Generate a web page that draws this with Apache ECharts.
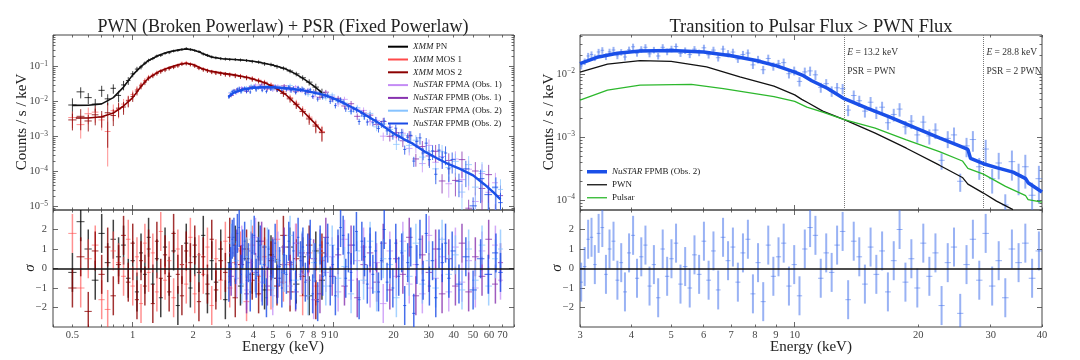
<!DOCTYPE html>
<html>
<head>
<meta charset="utf-8">
<script src="https://cdn.jsdelivr.net/npm/echarts@6/dist/echarts.min.js"></script>
<style>
  html, body { margin: 0; padding: 0; background: #fff; }
  #chart { width: 1080px; height: 360px; }
</style>
</head>
<body>
<div id="chart"></div>
<script>
// ---------------- data (energy in keV, rate in counts/s/keV, residuals in sigma) ----------------
// XMM-Newton spectra (common binning)
const xmmE = [0.50,0.55,0.60,0.65,0.70,0.75,0.80,0.85,0.90,0.95,1.00,1.05,1.10,1.15,1.20,1.26,1.32,1.38,1.45,1.52,1.60,1.68,1.76,1.85,1.94,2.04,2.14,2.25,2.36,2.48,2.60,2.75,2.90,3.05,3.25,3.45,3.70,3.95,4.25,4.55,4.90,5.25,5.65,6.10,6.55,7.05,7.60,8.20,8.80]
const pnC = [0.0080,0.019,0.013,0.0085,0.021,0.012,0.024,0.015,0.030,0.040,0.062,0.085,0.098,0.125,0.150,0.17,0.20,0.21,0.24,0.25,0.28,0.29,0.31,0.33,0.31,0.29,0.27,0.23,0.21,0.19,0.18,0.17,0.165,0.16,0.16,0.155,0.15,0.14,0.135,0.12,0.115,0.10,0.09,0.075,0.062,0.048,0.036,0.026,0.018]
const mos1C = [0.0035,0.0022,0.0045,0.0050,0.0030,0.0014,0.0055,0.0060,0.0085,0.011,0.016,0.022,0.030,0.040,0.050,0.058,0.068,0.075,0.085,0.090,0.100,0.110,0.125,0.13,0.118,0.11,0.095,0.085,0.078,0.072,0.068,0.065,0.062,0.060,0.057,0.054,0.050,0.046,0.041,0.036,0.030,0.025,0.019,0.013,0.0090,0.0058,0.0036,0.0022,0.0014]
const mos2C = [0.0030,0.0038,0.0028,0.0042,0.0036,0.0048,0.0040,0.0065,0.0070,0.0105,0.014,0.020,0.028,0.036,0.047,0.055,0.064,0.072,0.080,0.088,0.096,0.105,0.118,0.122,0.115,0.104,0.090,0.082,0.076,0.070,0.066,0.063,0.060,0.058,0.055,0.052,0.048,0.044,0.039,0.034,0.028,0.023,0.017,0.012,0.0082,0.0052,0.0032,0.0020,0.0013]
const pnRelErr = [0.55,0.35,0.35,0.4,0.35,0.35,0.3,0.35,0.3,0.25,0.2,0.16,0.15,0.12,0.12,0.1,0.1,0.1,0.09,0.09,0.09,0.09,0.09,0.09,0.09,0.09,0.09,0.1,0.1,0.1,0.1,0.1,0.1,0.1,0.1,0.1,0.1,0.11,0.11,0.12,0.12,0.13,0.13,0.14,0.15,0.17,0.2,0.25,0.3]
const mosRelErr = [0.5,0.6,0.5,0.5,0.5,0.9,0.5,0.45,0.4,0.35,0.3,0.25,0.2,0.18,0.16,0.15,0.14,0.13,0.13,0.12,0.12,0.12,0.12,0.12,0.12,0.12,0.12,0.13,0.13,0.13,0.13,0.14,0.14,0.14,0.15,0.15,0.15,0.16,0.16,0.17,0.18,0.19,0.2,0.22,0.25,0.28,0.32,0.38,0.45]
const pnRes = [-0.2,2.4,1.0,-0.6,1.8,0.3,1.5,0.6,1.2,-0.5,0.4,-1.2,0.8,-0.3,1.6,-0.8,0.5,-1.5,1.1,-0.4,0.9,-1.9,0.2,1.3,-1.0,0.6,-0.2,1.7,-1.3,0.4,-0.7,1.0,-1.6,0.3,1.2,-0.9,0.5,-0.3,1.4,-1.1,0.7,-0.5,0.2,1.1,-0.8,0.6,-1.4,0.9,-0.6]
const mos1Res = [1.8,-1.0,0.5,1.2,-1.6,-2.1,0.9,0.3,-0.4,1.5,-0.9,0.6,-1.8,1.3,-0.2,0.8,-1.2,1.9,-0.6,0.4,-1.5,1.0,0.2,-0.8,1.6,-1.3,0.7,-0.3,1.1,-1.9,0.5,-0.6,1.4,-1.0,0.3,0.9,-1.7,1.2,-0.4,0.6,-1.1,1.5,-0.7,0.2,1.3,-1.4,0.8,-0.9,0.4]
const mos2Res = [-1.0,0.6,-2.2,0.9,-0.3,1.1,-1.4,0.2,1.7,-0.7,1.3,-1.6,0.4,-0.9,1.0,-1.8,1.4,-0.5,0.7,-1.2,1.8,-0.3,-1.4,0.9,0.3,1.2,-1.7,0.6,-0.8,1.5,-1.1,0.4,-0.2,1.6,-1.5,0.2,1.0,-0.6,-1.3,1.1,0.4,-0.9,1.7,-1.2,0.5,-0.4,1.2,-1.6,0.8]

// XMM model curves
const pnModelE = [0.5,0.6,0.7,0.8,0.9,1.0,1.1,1.2,1.35,1.5,1.7,1.85,2.0,2.15,2.3,2.5,2.8,3.2,3.6,4.0,4.6,5.2,5.8,6.5,7.2,8.0,8.8]
const pnModelC = [0.0078,0.0079,0.0086,0.013,0.026,0.058,0.10,0.15,0.21,0.26,0.30,0.32,0.30,0.26,0.22,0.185,0.168,0.16,0.152,0.142,0.122,0.104,0.085,0.062,0.043,0.028,0.018]
const mosModelE = [0.52,0.6,0.7,0.8,0.9,1.0,1.1,1.2,1.35,1.5,1.7,1.85,2.0,2.2,2.4,2.8,3.2,3.8,4.6,5.2,5.8,6.5,7.2,8.0,8.8]
const mosModelC = [0.0034,0.0034,0.0037,0.0047,0.0075,0.013,0.027,0.047,0.072,0.092,0.115,0.125,0.115,0.09,0.076,0.065,0.058,0.048,0.034,0.024,0.016,0.0086,0.0048,0.0026,0.0014]

// NuSTAR FPMA/FPMB Obs. 1 and FPMA Obs. 2 (common binning)
const nuE = [3.1,3.3,3.5,3.7,3.9,4.1,4.4,4.7,5.0,5.3,5.7,6.1,6.5,7.0,7.5,8.0,8.6,9.2,9.9,10.6,11.4,12.3,13.2,14.2,15.3,16.5,17.8,19.2,20.7,22.3,24.0,25.9,27.9,30.1,32.5,35.0,37.8,40.8,44.0,47.5,51.3,55.4,59.8,64.6,68.5]
const nuRelErr = [0.12,0.12,0.12,0.12,0.12,0.12,0.12,0.12,0.12,0.12,0.13,0.13,0.13,0.14,0.14,0.15,0.15,0.16,0.17,0.18,0.19,0.20,0.21,0.22,0.23,0.25,0.27,0.29,0.31,0.34,0.37,0.40,0.44,0.48,0.52,0.56,0.60,0.65,0.70,0.75,0.80,0.85,0.90,0.92,0.95]
const fa1C = [0.0173,0.0180,0.0249,0.0202,0.0252,0.0298,0.0234,0.0275,0.0214,0.0280,0.0252,0.0209,0.0265,0.0203,0.0216,0.0138,0.0190,0.0143,0.0142,0.0086,0.0116,0.0062,0.0061,0.0056,0.0027,0.0029,0.00103,0.00189,0.00098,0.00125,0.00046,0.00056,0.00017,0.00056,0.000185,0.00027,0.000045,0.00023,0.000059,0.000117,0.000014,0.000088,0.0000256,0.000048,0.0000069]
const fb1C = [0.0150,0.0215,0.0223,0.0197,0.0269,0.0244,0.0299,0.0231,0.0276,0.0238,0.0281,0.0246,0.0192,0.0236,0.0180,0.0195,0.0133,0.0186,0.0120,0.0124,0.0075,0.0087,0.0038,0.0047,0.0041,0.0022,0.0027,0.00102,0.00129,0.00076,0.00105,0.00023,0.00052,0.00028,0.00038,0.000054,0.000208,0.000056,0.00022,0.000009,0.000104,0.000033,0.000082,0.0000061,0.0000206]
const fa2C = [0.0183,0.0201,0.0197,0.0250,0.0287,0.0241,0.0262,0.0293,0.0226,0.0265,0.0240,0.0289,0.0209,0.0239,0.0158,0.0189,0.0185,0.0127,0.0155,0.0100,0.0092,0.0052,0.0067,0.0039,0.0046,0.0019,0.0023,0.0016,0.0006,0.00111,0.00056,0.00079,0.00026,0.00037,0.00012,0.00037,0.000131,0.000196,0.000026,0.000158,0.000036,0.000101,0.0000067,0.000034,0.000031]
const fa1Res = [0.8,-0.5,1.2,-1.1,0.3,1.6,-0.7,0.5,-1.4,0.9,0.2,-0.9,1.3,-0.3,0.7,-1.6,1.0,-0.2,0.6,-1.2,1.5,-0.6,0.4,1.1,-1.0,0.3,-1.8,0.9,-0.4,1.4,-0.8,0.2,-1.3,1.7,-0.5,0.6,-1.2,1.1,-0.7,0.4,-1.0,0.9,-0.3,1.2,-0.6]
const fb1Res = [-0.4,1.0,0.2,-1.3,0.9,-0.2,1.4,-0.9,0.6,-0.5,1.1,0.3,-1.2,0.8,-0.6,0.5,-1.3,1.6,-0.4,0.7,-0.9,1.2,-1.5,0.2,0.8,-0.7,1.3,-1.1,0.5,-0.3,1.6,-1.4,0.7,-0.2,1.0,-1.3,0.5,-0.9,1.3,-1.2,0.6,-0.4,1.5,-0.8,0.3]
const fa2Res = [1.3,0.4,-0.8,0.6,1.5,-0.3,0.2,1.1,-1.0,0.4,-0.2,1.7,-0.6,0.9,-1.4,0.3,0.8,-0.9,1.2,-0.5,0.1,-1.3,0.9,-0.6,1.4,-1.2,0.5,0.2,-1.5,0.9,-0.4,1.3,-0.8,0.4,-1.0,1.5,-0.3,0.7,-1.1,1.0,-0.6,1.2,-0.9,0.5,1.0]

// NuSTAR FPMB Obs. 2 (finer binning, shown in both panels)
const b2E = [3.02,3.08,3.14,3.20,3.26,3.33,3.40,3.47,3.54,3.62,3.70,3.78,3.86,3.95,4.04,4.13,4.23,4.33,4.43,4.54,4.65,4.77,4.89,5.01,5.14,5.27,5.41,5.55,5.70,5.85,6.01,6.17,6.34,6.51,6.69,6.88,7.07,7.27,7.48,7.69,7.91,8.14,8.38,8.62,8.87,9.13,9.40,9.68,9.97,10.27,10.58,10.90,11.23,11.57,11.93,12.30,12.68,13.08,13.49,13.92,14.36,14.82,15.30,15.80,16.32,16.86,17.42,18.00,18.60,19.23,19.88,20.56,21.27,22.01,22.78,23.58,24.42,25.29,26.20,27.15,28.14,29.17,30.25,31.38,32.56,33.79,35.08,36.43,37.84,39.31,42.5,46.0,50.0,54.5,59.5,65.0,68.5]
const b2C = [0.01356,0.0159,0.0195,0.0206,0.0184,0.0226,0.0240,0.0191,0.0227,0.0243,0.0197,0.0224,0.0188,0.0245,0.0273,0.0216,0.0249,0.0268,0.0211,0.0243,0.0195,0.0268,0.0228,0.0253,0.0275,0.0214,0.0238,0.0205,0.0250,0.0220,0.0263,0.0204,0.0242,0.0183,0.0251,0.0214,0.0225,0.0174,0.0206,0.0217,0.0141,0.0172,0.0118,0.0178,0.0134,0.0147,0.0153,0.0102,0.0114,0.0077,0.0109,0.0113,0.0098,0.0062,0.0071,0.0054,0.0061,0.0059,0.0027,0.0046,0.0038,0.0026,0.0036,0.0025,0.0030,0.0017,0.0023,0.0028,0.00146,0.0018,0.00109,0.00174,0.00105,0.00130,0.00043,0.00096,0.00109,0.00020,0.00073,0.00092,0.00034,0.00065,0.00022,0.00039,0.000084,0.00041,0.00025,0.00034,0.00012,0.00022,0.000053,0.00012,0.0000105,0.000063,0.000022,0.000036,0.000013]
const b2RelErr = [0.12,0.12,0.12,0.12,0.12,0.12,0.12,0.12,0.12,0.12,0.12,0.12,0.12,0.12,0.12,0.12,0.12,0.12,0.12,0.12,0.12,0.12,0.12,0.12,0.12,0.12,0.12,0.12,0.12,0.12,0.12,0.13,0.13,0.13,0.13,0.13,0.13,0.13,0.14,0.14,0.14,0.14,0.15,0.15,0.15,0.15,0.16,0.16,0.16,0.17,0.17,0.17,0.18,0.18,0.18,0.19,0.19,0.19,0.20,0.20,0.20,0.21,0.21,0.22,0.22,0.23,0.23,0.24,0.24,0.25,0.25,0.26,0.27,0.28,0.29,0.30,0.31,0.32,0.34,0.36,0.38,0.40,0.42,0.45,0.48,0.50,0.52,0.55,0.58,0.60,0.65,0.70,0.75,0.80,0.85,0.90,0.90]
const b2Res = [-0.7,0.1,1.5,1.6,0.2,1.8,2.1,-0.3,1.0,1.4,-0.6,0.3,-1.2,0.8,1.7,-0.5,0.6,1.2,-0.9,0.2,-1.5,1.0,-0.4,0.5,1.3,-0.8,0.1,-1.0,0.7,-0.3,1.4,-0.6,0.9,-1.1,1.6,0.4,1.1,-0.7,0.8,1.5,-1.3,0.3,-1.7,1.2,-0.4,0.6,1.3,-0.9,0.2,-1.4,1.0,2.1,1.7,-0.5,0.8,-0.2,1.2,1.9,-1.6,1.4,0.6,-0.8,1.1,-0.3,0.9,-1.2,0.4,2.0,-0.7,0.5,-1.0,1.3,-0.4,0.8,-1.9,0.3,1.1,-2.3,0.2,1.5,-0.6,1.8,-0.9,0.4,-1.5,1.0,0.3,1.3,-0.5,0.9,-0.8,0.6,-1.1,0.5,-0.3,0.8,-0.2]

// NuSTAR model (left panel)
const nuModelE = [3.0,3.2,3.5,4.0,4.5,5.0,6.0,7.0,8.0,9.0,10.0,11.0,12.0,13.6,15.0,17.0,20.0,22.5,25.0,29.0,33.0,38.0,43.0,50.0,57.0,63.0,68.5]
const nuModelC = [0.0135,0.018,0.0218,0.0248,0.0258,0.0257,0.0237,0.0212,0.0181,0.0155,0.0125,0.0098,0.0076,0.0052,0.0037,0.0024,0.00125,0.00085,0.00063,0.00036,0.00024,0.00016,0.00012,0.000078,0.000043,0.000026,0.000016]

// right panel: total model and its two components
const totE = [3.0,3.3,3.7,4.2,5.0,6.0,7.0,8.0,9.0,10.0,10.5,11.0,12.0,13.2,15.0,17.0,20.0,22.5,25.0,26.4,26.8,28.8,31.0,34.0,36.5,37.0,40.0]
const totC = [0.0147,0.0186,0.0215,0.0234,0.0239,0.0225,0.0197,0.0167,0.0137,0.0108,0.0095,0.0079,0.0060,0.0041,0.0029,0.0021,0.00135,0.00098,0.00074,0.00064,0.00046,0.00038,0.00033,0.00028,0.00022,0.00019,0.000135]
const pwnE = [3.0,3.5,4.2,5.0,6.1,7.35,8.9,10.0,10.4,10.8,11.7,13.2,15.7,18.7,22.5,25.6,26.4,28.8,31.0,34.0]
const pwnC = [0.0108,0.0145,0.0165,0.016,0.0131,0.0091,0.0065,0.0047,0.0040,0.0035,0.0026,0.0019,0.00116,0.00067,0.00036,0.00023,0.00018,0.00013,0.000097,0.000071]
const psrE = [3.0,3.5,4.2,5.6,6.7,8.9,10.0,10.7,11.7,13.2,15.7,18.7,22.5,25.6,26.4,28.8,32.6,36.5,37.0,40.0]
const psrC = [0.0039,0.0056,0.0067,0.0069,0.0059,0.0044,0.0037,0.0030,0.0025,0.0019,0.0014,0.00091,0.00059,0.00042,0.00032,0.00026,0.000166,0.000118,0.000102,0.000093]

// energies where the pulsar reaches 1x and 2x the PWN flux
const ratioE = [13.2, 28.8]
const ratioText = ['PSR = PWN', 'PSR = 2 PWN']

// tick labels
const leftXLabels = [0.5,1,2,3,4,5,6,7,8,9,10,20,30,40,50,60,70]
const rightXLabels = [3,4,5,6,7,8,9,10,20,30,40]
const resTicks = [-2,-1,0,1,2]

const leftNames = ['XMM PN','XMM MOS 1','XMM MOS 2','NuSTAR FPMA (Obs. 1)','NuSTAR FPMB (Obs. 1)','NuSTAR FPMA (Obs. 2)','NuSTAR FPMB (Obs. 2)']
const rightNames = ['NuSTAR FPMB (Obs. 2) ', 'PWN', 'Pulsar']

// ---------------- layout / style ----------------
const SERIF = "'Liberation Serif', 'DejaVu Serif', serif"
const INK = '#222'
const TICK = '#444'
const L = Math.log10

const xRange = [[0.4, 80], [3, 40]]
const yMainRange = [[8e-6, 0.8], [7e-5, 0.042]]
const resRange = [-3, 3]

const gridBox = [
    { left: 53, top: 35, width: 461, height: 175 },
    { left: 53, top: 210, width: 461, height: 117 },
    { left: 580, top: 35, width: 462, height: 175 },
    { left: 580, top: 210, width: 462, height: 117 }
]

// ---------------- helpers ----------------
function decadeTicks(lo, hi, mults) {
    let out = []
    for (let n = Math.floor(L(lo)) - 1; n <= Math.ceil(L(hi)); n++) {
        mults.forEach(m => {
            let v = m * Math.pow(10, n)
            if (v >= lo * 0.999 && v <= hi * 1.001) out.push(v)
        })
    }
    return out
}

// geometric bin edges around each energy
function binEdges(E) {
    return E.map((e, i) => {
        let a = i > 0 ? Math.sqrt(E[i - 1] * e) : e / Math.sqrt(E[i + 1] / e)
        let b = i < E.length - 1 ? Math.sqrt(e * E[i + 1]) : e * Math.sqrt(e / E[i - 1])
        return [a, b]
    })
}

function specRows(E, C, rel, maxE) {
    let edges = binEdges(E)
    let rows = []
    E.forEach((e, i) => {
        if (maxE && e > maxE) return
        let lo = C[i] * (1 - rel[i])
        rows.push([L(e), L(C[i]), lo > 0 ? L(lo) : -12, L(C[i] * (1 + rel[i])), L(edges[i][0]), L(edges[i][1])])
    })
    return rows
}

function resRows(E, R, maxE) {
    let edges = binEdges(E)
    let rows = []
    E.forEach((e, i) => {
        if (maxE && e > maxE) return
        rows.push([L(e), R[i], R[i] - 1, R[i] + 1, L(edges[i][0]), L(edges[i][1])])
    })
    return rows
}

function curve(E, C) {
    return E.map((e, i) => [L(e), L(C[i])])
}

function errBars(lw) {
    return function (params, api) {
        let x = api.value(0), y = api.value(1)
        let p1 = api.coord([x, api.value(2)])
        let p2 = api.coord([x, api.value(3)])
        let q1 = api.coord([api.value(4), y])
        let q2 = api.coord([api.value(5), y])
        let color = api.visual('color')
        return {
            type: 'group',
            children: [
                { type: 'line', shape: { x1: p1[0], y1: p1[1], x2: p2[0], y2: p2[1] }, style: { stroke: color, lineWidth: lw } },
                { type: 'line', shape: { x1: q1[0], y1: q1[1], x2: q2[0], y2: q2[1] }, style: { stroke: color, lineWidth: 1 } }
            ]
        }
    }
}

const fmtE = v => {
    let e = Math.pow(10, v)
    return e < 1 ? e.toFixed(1) : String(Math.round(e))
}
const fmtPow = v => {
    let n = Math.round(v)
    return '10{s|' + (n < 0 ? '\u2212' + (-n) : n) + '}'
}
const fmtRes = v => (v < 0 ? '\u2212' + (-v) : String(v))

// ---------------- axes ----------------
let xAxes = [], yAxes = [], xi = [], yi = []

function tickAxis(kind, g, min, max, pos, ticks, len, label) {
    let ax = {
        type: 'value', gridIndex: g, min: min, max: max, position: pos,
        axisLine: { show: false, onZero: false }, splitLine: { show: false },
        axisTick: { show: true, inside: true, length: len, customValues: ticks, lineStyle: { color: TICK, width: 0.8 } },
        axisLabel: label || { show: false }
    }
    let list = kind === 'x' ? xAxes : yAxes
    list.push(ax)
    return list.length - 1
}

const labelStyle = { color: TICK, fontFamily: SERIF, fontSize: 10.5 }

for (let p = 0; p < 2; p++) {
    let xr = xRange[p]
    let xMin = L(xr[0]), xMax = L(xr[1])
    let xMajor = decadeTicks(xr[0], xr[1], [1]).map(L)
    let xMinor = decadeTicks(xr[0], xr[1], [2, 3, 4, 5, 6, 7, 8, 9]).map(L)
    let xLabels = (p === 0 ? leftXLabels : rightXLabels).map(L)

    for (let r = 0; r < 2; r++) {
        let g = p * 2 + r
        let lab = r === 1 ? Object.assign({ show: true, customValues: xLabels, formatter: fmtE, margin: 3 }, labelStyle) : null
        xi[g] = tickAxis('x', g, xMin, xMax, 'bottom', xMajor, 5, lab)
        tickAxis('x', g, xMin, xMax, 'bottom', xMinor, 2.5)
        tickAxis('x', g, xMin, xMax, 'top', xMajor, 5)
        tickAxis('x', g, xMin, xMax, 'top', xMinor, 2.5)

        if (r === 0) {
            let yr = yMainRange[p]
            let yMin = L(yr[0]), yMax = L(yr[1])
            let yMajor = decadeTicks(yr[0], yr[1], [1]).map(L)
            let yMinor = decadeTicks(yr[0], yr[1], [2, 3, 4, 5, 6, 7, 8, 9]).map(L)
            let ylab = Object.assign({
                show: true, customValues: yMajor, formatter: fmtPow, margin: 5,
                rich: { s: { fontSize: 7.5, fontFamily: SERIF, color: TICK, verticalAlign: 'bottom', padding: [0, 0, 6, 0] } }
            }, labelStyle)
            yi[g] = tickAxis('y', g, yMin, yMax, 'left', yMajor, 5, ylab)
            tickAxis('y', g, yMin, yMax, 'left', yMinor, 2.5)
            tickAxis('y', g, yMin, yMax, 'right', yMajor, 5)
            tickAxis('y', g, yMin, yMax, 'right', yMinor, 2.5)
        } else {
            let ylab = Object.assign({ show: true, customValues: resTicks, formatter: fmtRes, margin: 6 }, labelStyle)
            yi[g] = tickAxis('y', g, resRange[0], resRange[1], 'left', resTicks, 5, ylab)
            tickAxis('y', g, resRange[0], resRange[1], 'right', resTicks, 5)
        }
    }
}

// ---------------- series ----------------
let series = []

function addBars(name, g, rows, color, lw, z) {
    series.push({
        type: 'custom', name: name, xAxisIndex: xi[g], yAxisIndex: yi[g],
        data: rows, renderItem: errBars(lw), itemStyle: { color: color },
        encode: { x: 0, y: 1 }, clip: true, silent: true, z: z
    })
    return series[series.length - 1]
}

function addLine(name, g, data, color, width, z) {
    series.push({
        type: 'line', name: name, xAxisIndex: xi[g], yAxisIndex: yi[g], data: data,
        symbol: 'none', showSymbol: false, clip: true, silent: true, z: z,
        lineStyle: { color: color, width: width }, itemStyle: { color: color }
    })
    return series[series.length - 1]
}

// bar colours (translucent) and the solid colours used in the legend
const COL = ['rgba(0,0,0,0.75)', 'rgba(255,70,70,0.6)', 'rgba(140,0,0,0.8)', 'rgba(195,140,245,0.75)',
             'rgba(135,50,175,0.8)', 'rgba(135,195,255,0.75)', 'rgba(25,75,230,0.8)']
const SOLID = ['#000000', '#ff4a4a', '#8c0000', '#c48cf5', '#8732af', '#87c3ff', '#1a4be6']

// left panel data
addBars(leftNames[0], 0, specRows(xmmE, pnC, pnRelErr), COL[0], 1, 2)
addBars(leftNames[1], 0, specRows(xmmE, mos1C, mosRelErr), COL[1], 1, 2)
addBars(leftNames[2], 0, specRows(xmmE, mos2C, mosRelErr), COL[2], 1, 2)
addBars(leftNames[3], 0, specRows(nuE, fa1C, nuRelErr), COL[3], 1, 3)
addBars(leftNames[4], 0, specRows(nuE, fb1C, nuRelErr), COL[4], 1, 3)
addBars(leftNames[5], 0, specRows(nuE, fa2C, nuRelErr), COL[5], 1, 3)
addBars(leftNames[6], 0, specRows(b2E, b2C, b2RelErr), COL[6], 1, 3)

// left panel models
addLine('pn model', 0, curve(pnModelE, pnModelC), '#111', 1.6, 5)
addLine('mos model', 0, curve(mosModelE, mosModelC), '#8b0000', 1.6, 5)
addLine('nu model', 0, curve(nuModelE, nuModelC), '#1a50e8', 2.4, 6)

// left residuals
addBars('r pn', 1, resRows(xmmE, pnRes), COL[0], 1.5, 2)
addBars('r mos1', 1, resRows(xmmE, mos1Res), COL[1], 1.5, 2)
addBars('r mos2', 1, resRows(xmmE, mos2Res), COL[2], 1.5, 2)
addBars('r fa1', 1, resRows(nuE, fa1Res), COL[3], 1.5, 3)
addBars('r fb1', 1, resRows(nuE, fb1Res), COL[4], 1.5, 3)
addBars('r fa2', 1, resRows(nuE, fa2Res), COL[5], 1.5, 3)
let lastLeft = addBars('r fb2', 1, resRows(b2E, b2Res), COL[6], 1.5, 3)
lastLeft.markLine = {
    silent: true, symbol: 'none', animation: false, label: { show: false },
    lineStyle: { color: '#111', width: 1.5, type: 'solid' }, data: [{ yAxis: 0 }]
}

// right panel
const rightCol = 'rgba(70,115,235,0.55)'
addBars('b2 data', 2, specRows(b2E, b2C, b2RelErr, 40), rightCol, 2, 2)
addLine(rightNames[0], 2, curve(totE, totC), '#1a4fe8', 3.5, 6)
let pwnLine = addLine(rightNames[1], 2, curve(pwnE, pwnC), '#111', 1.3, 5)
addLine(rightNames[2], 2, curve(psrE, psrC), '#2db82d', 1.3, 5)

let yTopL = L(yMainRange[1][1]), yBotL = L(yMainRange[1][0])
let annY = yTopL - 0.157 * (yTopL - yBotL)
pwnLine.markLine = {
    silent: true, symbol: 'none', animation: false, label: { show: false },
    lineStyle: { color: '#777', width: 1, type: 'dotted' },
    data: ratioE.map(e => ({ xAxis: L(e) }))
}
pwnLine.markPoint = {
    silent: true, animation: false,
    data: ratioE.map((e, i) => ({
        coord: [L(e), annY], symbolSize: 0,
        label: {
            show: true, position: 'right', distance: 3,
            formatter: '{i|E} = ' + e + ' keV\n' + ratioText[i],
            fontFamily: SERIF, fontSize: 9.5, color: '#333', lineHeight: 19,
            rich: { i: { fontStyle: 'italic', fontFamily: SERIF, fontSize: 9.5, lineHeight: 19, color: '#333' } }
        }
    }))
}

let rr = addBars('b2 res', 3, resRows(b2E, b2Res, 40), rightCol, 2, 2)
rr.markLine = {
    silent: true, symbol: 'none', animation: false, label: { show: false },
    lineStyle: { color: '#111', width: 1.5, type: 'solid' }, data: [{ yAxis: 0 }]
}

// ---------------- axis titles (placed as free text) ----------------
function axisTitle(text, x, y, vertical, italic) {
    return {
        type: 'text', x: x, y: y, rotation: vertical ? Math.PI / 2 : 0, silent: true,
        style: {
            text: text, fill: INK, align: 'center', verticalAlign: 'middle',
            font: (italic ? 'italic ' : '') + '15px ' + SERIF
        }
    }
}

// ---------------- chart ----------------
const italicName = n => n.trim().replace(/^(XMM|NuSTAR)/, '{i|$1}')
function legendText(size, lh) {
    return {
        fontFamily: SERIF, fontSize: size, color: INK, lineHeight: lh,
        rich: { i: { fontStyle: 'italic', fontFamily: SERIF, fontSize: size, color: INK, lineHeight: lh } }
    }
}
const rightIcons = ['path://M0,0H20V3.5H0Z', 'path://M0,0H20V1.3H0Z', 'path://M0,0H20V1.3H0Z']

let option = {
    animation: false,
    backgroundColor: '#fff',
    title: [
        { text: 'PWN (Broken Powerlaw) + PSR (Fixed Powerlaw)', left: 278, top: 13, textAlign: 'center',
          textStyle: { fontFamily: SERIF, fontSize: 18, fontWeight: 'normal', color: INK } },
        { text: 'Transition to Pulsar Flux > PWN Flux', left: 806, top: 13, textAlign: 'center',
          textStyle: { fontFamily: SERIF, fontSize: 18.5, fontWeight: 'normal', color: INK } }
    ],
    legend: [
        {
            data: leftNames.map((n, i) => ({ name: n, icon: 'rect', itemStyle: { color: SOLID[i] } })),
            orient: 'vertical', left: 388, top: 40.3, padding: 0, itemWidth: 20, itemHeight: 2, itemGap: 0,
            selectedMode: false, formatter: italicName,
            textStyle: legendText(9, 12.8)
        },
        {
            data: rightNames.map((n, i) => ({ name: n, icon: rightIcons[i] })),
            orient: 'vertical', left: 587, top: 166, padding: 0, itemWidth: 20, itemHeight: 10, itemGap: 1.5,
            selectedMode: false, formatter: italicName,
            textStyle: legendText(9, 11.5)
        }
    ],
    grid: gridBox.map(b => Object.assign({ show: true, borderColor: '#444', borderWidth: 1, backgroundColor: 'transparent' }, b)),
    xAxis: xAxes,
    yAxis: yAxes,
    series: series,
    graphic: [
        axisTitle('Counts / s / keV', 22, 122, true),
        axisTitle('Counts / s / keV', 549, 122, true),
        axisTitle('\u03c3', 30, 268, true, true),
        axisTitle('\u03c3', 557, 268, true, true),
        axisTitle('Energy (keV)', 283, 347),
        axisTitle('Energy (keV)', 811, 347)
    ]
}

let myChart = echarts.init(document.getElementById('chart'), null, { renderer: 'canvas' })
myChart.setOption(option)
</script>
</body>
</html>
